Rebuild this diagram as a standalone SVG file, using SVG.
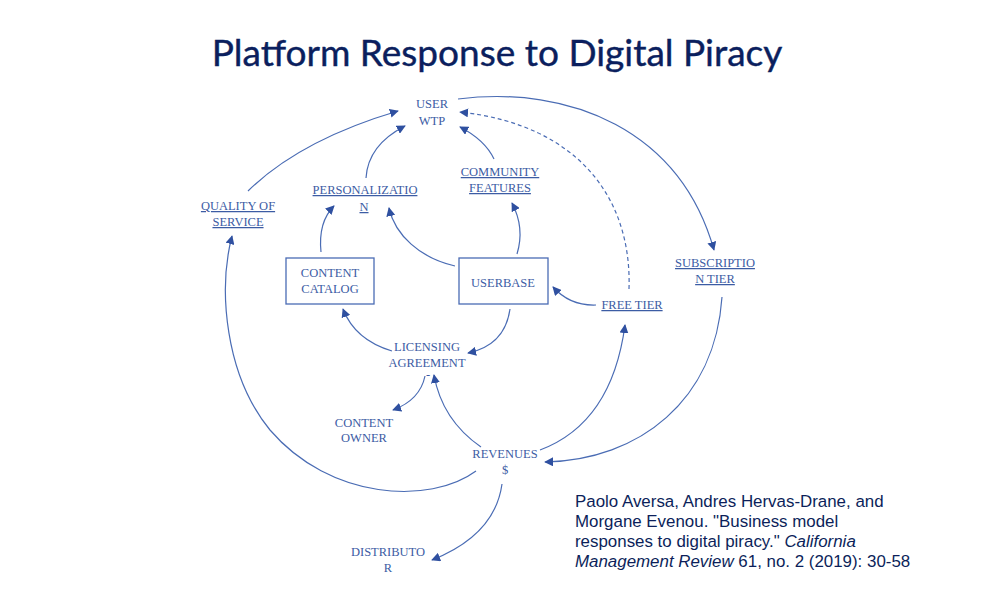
<svg xmlns="http://www.w3.org/2000/svg" width="1002" height="603" viewBox="0 0 1002 603">
<style>
.t{font-family:"Liberation Serif","DejaVu Serif",serif;font-size:12.5px;fill:#3c5ca4;text-anchor:middle}
.u{text-decoration:underline}
.c{fill:none;stroke:#4a6cb4;stroke-width:1.2}
.d{stroke-dasharray:4 3}
.box{fill:#fff;stroke:#4a6cb4;stroke-width:1.3}
.cite{font-family:"Liberation Sans",Arial,sans-serif;font-size:16.9px;fill:#0c1f5a}
</style>
<defs>
<marker id="ah" viewBox="0 0 10 10" refX="9" refY="5" markerWidth="9" markerHeight="9" markerUnits="userSpaceOnUse" orient="auto">
<path d="M0,0 L10,5 L0,10 Z" fill="#2f50a0"/>
</marker>
</defs>
<rect width="1002" height="603" fill="#fff"/>
<text x="497" y="66" font-family="Lato,'Open Sans',sans-serif" font-size="37" fill="#0b1f5e" stroke="#0b1f5e" stroke-width="0.4" text-anchor="middle">Platform Response to Digital Piracy</text>

<g id="connectors">
<path class="c" marker-end="url(#ah)" d="M248,191 Q300,140 398,111"/>
<path class="c" marker-end="url(#ah)" d="M366,178 Q368,145 405,126"/>
<path class="c" marker-end="url(#ah)" d="M494,159 Q485,140 460,127"/>
<path class="c" marker-end="url(#ah)" d="M458,99 C570,85 680,130 714,250"/>
<path class="c d" marker-end="url(#ah)" d="M629,289 C632,200 580,125 460,112"/>
<path class="c" marker-end="url(#ah)" d="M321,252 Q318,222 334,206"/>
<path class="c" marker-end="url(#ah)" d="M455,266 C420,258 395,235 389,208"/>
<path class="c" marker-end="url(#ah)" d="M517,254 Q525,228 512,203"/>
<path class="c" marker-end="url(#ah)" d="M596,305 Q570,306 553,287"/>
<path class="c" marker-end="url(#ah)" d="M510,309 Q505,345 468,353"/>
<path class="c" marker-end="url(#ah)" d="M392,351 Q355,340 343,309"/>
<path class="c" marker-end="url(#ah)" d="M425,376 Q420,400 393,410"/>
<path class="c" marker-end="url(#ah)" d="M481,447 Q442,420 434,375"/>
<path class="c" marker-end="url(#ah)" d="M540,450 C580,435 615,400 625,325"/>
<path class="c" marker-end="url(#ah)" d="M722,297 C715,400 640,460 545,462"/>
<path class="c" marker-end="url(#ah)" d="M476,471 C430,505 330,500 270,430 C225,375 218,290 232,236"/>
<path class="c" marker-end="url(#ah)" d="M502,484 Q495,535 432,560"/>
</g>

<g id="user-wtp"><text class="t" x="432" y="108">USER</text><text class="t" x="432" y="125">WTP</text></g>
<g id="personalization"><text class="t u" x="365" y="194">PERSONALIZATIO</text><text class="t u" x="364" y="211">N</text></g>
<g id="community-features"><text class="t u" x="500" y="176">COMMUNITY</text><text class="t u" x="500" y="192">FEATURES</text></g>
<g id="quality-of-service"><text class="t u" x="238" y="210">QUALITY OF</text><text class="t u" x="238" y="226">SERVICE</text></g>
<g id="content-catalog"><rect class="box" x="286" y="258" width="88" height="46"/><text class="t" x="330" y="277">CONTENT</text><text class="t" x="330" y="293">CATALOG</text></g>
<g id="userbase"><rect class="box" x="459" y="258" width="89" height="46"/><text class="t" x="503" y="287">USERBASE</text></g>
<g id="free-tier"><text class="t u" x="632" y="309">FREE TIER</text></g>
<g id="subscription-tier"><text class="t u" x="715" y="267">SUBSCRIPTIO</text><text class="t u" x="715" y="283">N TIER</text></g>
<g id="licensing-agreement"><text class="t" x="427" y="351">LICENSING</text><text class="t" x="427" y="367">AGREEMENT</text><text class="t" x="428" y="379" font-size="8">-</text></g>
<g id="content-owner"><text class="t" x="364" y="427">CONTENT</text><text class="t" x="364" y="442">OWNER</text></g>
<g id="revenues"><text class="t" x="505" y="458">REVENUES</text><text class="t" x="505" y="474">$</text></g>
<g id="distributor"><text class="t" x="388" y="556">DISTRIBUTO</text><text class="t" x="388" y="572">R</text></g>

<g id="citation">
<text class="cite" x="575" y="507">Paolo Aversa, Andres Hervas-Drane, and</text>
<text class="cite" x="575" y="527">Morgane Evenou. "Business model</text>
<text class="cite" x="575" y="547">responses to digital piracy." <tspan font-style="italic">California</tspan></text>
<text class="cite" x="575" y="567"><tspan font-style="italic">Management Review</tspan> 61, no. 2 (2019): 30-58</text>
</g>
</svg>
